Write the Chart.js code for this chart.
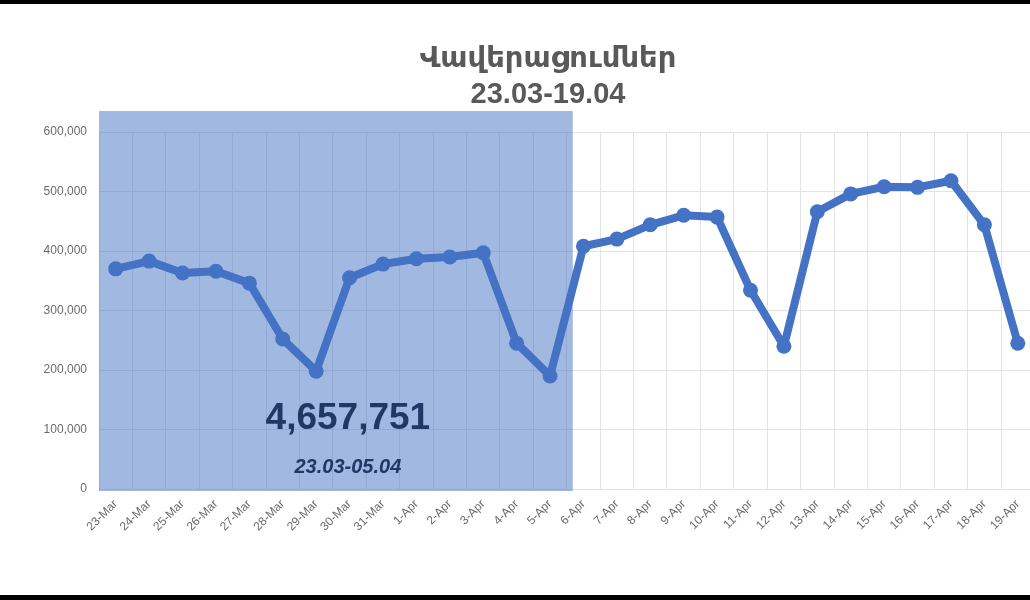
<!DOCTYPE html>
<html>
<head>
<meta charset="utf-8">
<script src="https://cdn.jsdelivr.net/npm/chart.js@4/dist/chart.umd.min.js"></script>
<style>
  html, body { margin: 0; padding: 0; background: #fff; overflow: hidden; }
  #wrap { position: relative; width: 1030px; height: 600px; overflow: hidden; }
  #box { position: absolute; left: 0; top: 0; width: 1042px; height: 600px; }
  #title {
    position: absolute; left: 348px; top: 39px; width: 400px; text-align: center;
    font-family: "Liberation Sans", "DejaVu Sans", sans-serif; font-weight: bold;
    font-size: 29px; line-height: 36px; color: #595959;
  }
  .bar { position: absolute; left: 0; width: 1030px; background: #000; }
</style>
</head>
<body>
<div id="wrap">
  <div id="box"><canvas id="myChart"></canvas></div>
  <div id="title">Վավերացումներ<br>23.03-19.04</div>
  <div class="bar" style="top:0;height:4px"></div>
  <div class="bar" style="top:595px;height:5px"></div>
</div>
<script>
// dates on the x axis
const days = ["23-Mar","24-Mar","25-Mar","26-Mar","27-Mar","28-Mar","29-Mar","30-Mar","31-Mar",
  "1-Apr","2-Apr","3-Apr","4-Apr","5-Apr","6-Apr","7-Apr","8-Apr","9-Apr","10-Apr",
  "11-Apr","12-Apr","13-Apr","14-Apr","15-Apr","16-Apr","17-Apr","18-Apr","19-Apr"];

// validations per day
const validations = [370000,383000,363000,366000,346000,252000,198000,355000,378000,
  387000,390000,397000,245000,190000,408000,420000,444000,460000,457000,
  334000,240000,466000,496000,508000,507000,518000,444000,245000];

// shaded period: 23-Mar .. 5-Apr
const shadeFrom = 0;
const shadeTo = 13;
const shadeTotal = "4,657,751";
const shadeLabel = "23.03-05.04";

const shadePlugin = {
  id: "shade",
  beforeDatasetsDraw(chart) {
    const ctx = chart.ctx, x = chart.scales.x, a = chart.chartArea;
    const left = a.left;
    const right = (x.getPixelForValue(shadeTo) + x.getPixelForValue(shadeTo + 1)) / 2 + 6;
    ctx.save();
    ctx.fillStyle = "rgba(68,114,196,0.5)";
    ctx.fillRect(left, a.top - 21, right - left, a.bottom - a.top + 23);
    ctx.restore();
  },
  afterDraw(chart) {
    const ctx = chart.ctx, x = chart.scales.x, y = chart.scales.y;
    const cx = (x.getPixelForValue(shadeFrom) + x.getPixelForValue(shadeTo)) / 2 + 15;
    ctx.save();
    ctx.fillStyle = "#1f3864";
    ctx.textAlign = "center";
    ctx.textBaseline = "middle";
    ctx.font = "bold 37px 'Liberation Sans', Arial, sans-serif";
    ctx.fillText(shadeTotal, cx, y.getPixelForValue(118000));
    ctx.font = "italic bold 20px 'Liberation Sans', Arial, sans-serif";
    ctx.fillText(shadeLabel, cx, y.getPixelForValue(36000));
    ctx.restore();
  }
};

const ctx = document.getElementById("myChart").getContext("2d");
const myChart = new Chart(ctx, {
  type: "line",
  data: {
    labels: days,
    datasets: [{
      label: "Վավերացումներ",
      data: validations,
      borderColor: "#4472c4",
      backgroundColor: "#4472c4",
      borderWidth: 8,
      pointRadius: 7.5,
      pointHoverRadius: 7.5,
      pointBorderWidth: 0,
      borderJoinStyle: "round",
      tension: 0,
      fill: false
    }]
  },
  options: {
    responsive: true,
    maintainAspectRatio: false,
    animation: false,
    layout: { padding: { top: 132, left: 0, right: 5, bottom: 0 } },
    plugins: {
      legend: { display: false },
      title: { display: false },
      tooltip: { enabled: false }
    },
    scales: {
      x: {
        offset: true,
        grid: { offset: true, color: "#e3e3e3", drawTicks: false },
        border: { display: false },
        ticks: {
          color: "#6b6b6b",
          font: { family: "'Liberation Sans', Arial, sans-serif", size: 12 },
          minRotation: 45, maxRotation: 45, padding: 8, autoSkip: false
        },
        afterFit(scale) { scale.height = 111; }
      },
      y: {
        min: 0, max: 600000,
        grid: { color: "#e3e3e3", drawTicks: false },
        border: { display: false },
        ticks: {
          stepSize: 100000,
          color: "#6b6b6b",
          padding: 12,
          font: { family: "'Liberation Sans', Arial, sans-serif", size: 12 },
          callback: (v) => v.toLocaleString("en-US")
        },
        afterFit(scale) { scale.width = 99; }
      }
    }
  },
  plugins: [shadePlugin]
});
</script>
</body>
</html>
